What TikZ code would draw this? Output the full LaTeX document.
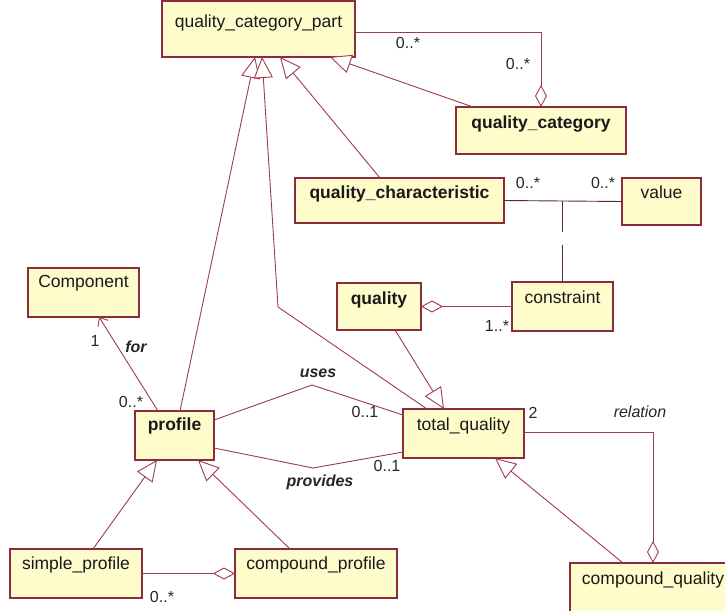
\documentclass[tikz,border=0pt]{standalone}
\usepackage{fontspec}
\setmainfont{Liberation Sans}
\usetikzlibrary{arrows.meta,calc}
\definecolor{boxfill}{HTML}{FFFCCB}
\definecolor{boxline}{HTML}{8B2C3C}
\definecolor{conline}{HTML}{9E3B4E}
\definecolor{darkline}{HTML}{5A2A34}
\newcommand\ubox[8]{%
  \node[ubox, minimum width={(#4-#2)*1pt}, minimum height={(#5-#3)*1pt}] (#1) at ({(#2+#4)/2},{(#3+#5)/2}) {};
  \node[namefont, font=#6, anchor=base] (#1-name) at ({(#2+#4)/2},{#3+#7}) {#8};}
\begin{document}
\begin{tikzpicture}[x=1pt,y=-1pt,
  ubox/.style={draw=boxline, fill=boxfill, line width=1.2pt, inner sep=0pt, outer sep=0pt},
  namefont/.style={inner sep=0pt, text=black!90},
  conn/.style={draw=conline, line width=0.9pt},
  gen/.style={conn, -{Triangle[length=21pt,width=19pt,fill=white]}},
  agg/.style={conn, -{Diamond[length=22pt,width=12pt,fill=white]}},
  nav/.style={conn, -{Straight Barb[length=7pt,width=12pt]}},
  lbl/.style={inner sep=0pt, text=black!85, font=\fontsize{16}{18}\selectfont},
  role/.style={lbl, font=\fontsize{16}{18}\selectfont\bfseries\itshape}]
\useasboundingbox (0,0) rectangle (725,610);
\clip (0,0) rectangle (725,610);
\fill[white] (0,0) rectangle (725,610);
% boxes
\ubox{qcp}{162}{1}{355}{57}{\fontsize{17.5}{20}\selectfont}{27}{quality\_category\_part}
\ubox{qcat}{456}{107}{626}{154}{\fontsize{17.5}{20}\selectfont\bfseries}{21}{quality\_category}
\ubox{qch}{295}{178}{504}{223}{\fontsize{17.5}{20}\selectfont\bfseries}{20}{quality\_characteristic}
\ubox{value}{622}{178}{701}{225}{\fontsize{17.5}{20}\selectfont}{20}{value}
\ubox{comp}{28}{268}{139}{317}{\fontsize{17.5}{20}\selectfont}{19}{Component}
\ubox{quality}{337}{283}{421}{330}{\fontsize{17.5}{20}\selectfont\bfseries}{21}{quality}
\ubox{constraint}{512}{282}{613}{331}{\fontsize{17.5}{20}\selectfont}{21}{constraint}
\ubox{profile}{135}{411}{214}{460}{\fontsize{17.5}{20}\selectfont\bfseries}{19}{profile}
\ubox{tq}{403}{409}{524}{458}{\fontsize{17.5}{20}\selectfont}{21}{total\_quality}
\ubox{sp}{10}{549}{142}{598}{\fontsize{17.5}{20}\selectfont}{20}{simple\_profile}
\ubox{cp}{235}{549}{397}{598}{\fontsize{17.5}{20}\selectfont}{20}{compound\_profile}
\ubox{cq}{570}{563}{736}{640}{\fontsize{17.5}{20}\selectfont}{21}{compound\_quality}
% connectors to quality_category_part
\draw[agg] ($(qcp.north east)+(0,31)$) -| (qcat.north);
\draw[gen] ($(qcat.north west)+(17,0)$) -- ($(qcp.south west)+(168,0)$);
\draw[gen] ($(qch.north west)+(85,0)$) -- ($(qcp.south west)+(118,0)$);
\draw[gen] ($(profile.north west)+(45,0)$) -- ($(qcp.south west)+(93,0)$);
\draw[gen] ($(tq.north west)+(24,0)$) -- (278,307) -- ($(qcp.south west)+(100,0)$);
% quality_characteristic / value / constraint
\draw[conn, draw=darkline] (qch.east) -- (value.west);
\coordinate (ac) at (qch.east -| constraint.north);
\draw[conn, draw=darkline, dash pattern=on 31pt off 13pt on 60pt] (ac) -- (constraint.north);
\draw[agg] (constraint.west) -- (quality.east);
\draw[gen] ($(quality.south west)+(58,0)$) -- ($(tq.north west)+(41,0)$);
% profile associations
\draw[nav] ($(profile.north west)+(23,0)$) -- ($(comp.south west)+(71,0)$);
\draw[conn] ($(profile.north east)+(0,9)$) -- (312,385) -- ($(tq.north west)+(0,6)$);
\draw[conn] ($(profile.north east)+(0,37)$) -- (313,468) -- ($(tq.north west)+(0,43)$);
\draw[gen] ($(sp.north west)+(83,0)$) -- ($(profile.south west)+(22,0)$);
\draw[gen] ($(cp.north west)+(55,0)$) -- ($(profile.south west)+(63,0)$);
\draw[agg] (sp.east) -- (cp.west);
% total_quality / compound_quality
\draw[agg] ($(tq.north east)+(0,23)$) -| (cq.north);
\draw[gen] ($(cq.north west)+(53,0)$) -- ($(tq.south west)+(92,0)$);
% labels
\node[lbl] (l1) at (408,43) {0..*};
\node[lbl] (l2) at (518,64) {0..*};
\node[lbl] (l3) at (528,183) {0..*};
\node[lbl] (l4) at (603,183) {0..*};
\node[lbl] (l5) at (497,326) {1..*};
\node[lbl] (l6) at (95,341) {1};
\node[role] (l7) at (136,347) {for};
\node[lbl] (l8) at (131,402) {0..*};
\node[role] (l9) at (318,373) {uses};
\node[lbl] (l10) at (365,412) {0..1};
\node[role] (l11) at (320,482) {provides};
\node[lbl] (l12) at (387,466) {0..1};
\node[lbl] (l13) at (533,413) {2};
\node[lbl, font=\fontsize{16}{18}\selectfont\itshape] (l14) at (640,412) {relation};
\node[lbl] (l15) at (162,597) {0..*};
\end{tikzpicture}
\end{document}
